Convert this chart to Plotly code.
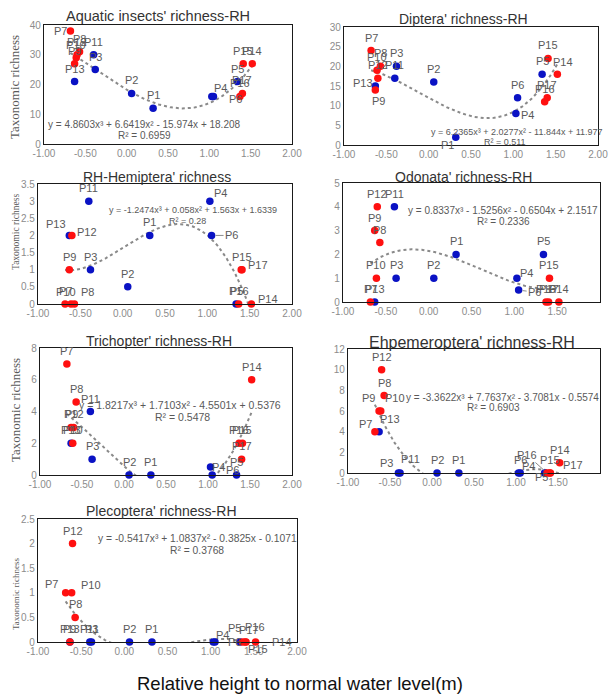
import numpy as np
import plotly.graph_objects as go

W, H = 610, 697

# ---------------- data ----------------
sites = [f"P{i}" for i in range(1, 18)]
rh = [0.32, 0.06, -0.38, 1.03, 1.34, 1.05, -0.68, -0.57, -0.63, -0.61,
      -0.40, -0.60, -0.63, 1.52, 1.41, 1.37, 1.40]
group = ["b", "b", "b", "b", "b", "b", "r", "r", "r", "r",
         "b", "r", "b", "r", "r", "r", "r"]

aquatic = [12, 17, 25, 16, 21, 16, 38, 31, 27, 29, 30, 30, 21, 27, 27, 16, 17]
diptera = [2, 16, 20, 8, 18, 12, 24, 20, 14, 19, 17, 17, 15, 18, 22, 11, 12]
hemiptera = [2, 0.5, 1, 3, 0, 2, 0, 0, 1, 0, 3, 2, 2, 0, 1, 0, 1]
odonata = [2, 1, 1, 1, 2, 0.5, 0, 2.5, 3, 1, 4, 4, 0, 0, 1, 0, 0]
trichoptera = [0, 0, 1, 0.5, 0, 0, 7, 4.6, 3, 2, 4, 3, 2, 6, 2, 2, 1]
ephemeroptera = [0, 0, 0, 0, 0, 0, 4, 7.5, 6, 6, 0, 10, 4, 1, 0, 0, 0]
plecoptera = [0, 0, 0, 0, 0, 0, 1, 0.5, 0, 1, 0, 2, 0, 0, 0, 0, 0]

titles = ["Aquatic insects' richness-RH", "Diptera' richness-RH",
          "RH-Hemiptera' richness", "Odonata' richness-RH",
          "Trichopter' richness-RH", "Ehpemeroptera' richness-RH",
          "Plecoptera' richness-RH"]

coef_aquatic = [4.8603, 6.6419, -15.974, 18.208]
coef_diptera = [6.2365, 2.0277, -11.844, 11.977]
coef_hemiptera = [-1.2474, 0.058, 1.563, 1.6339]
coef_odonata = [0.8337, -1.5256, -0.6504, 2.1517]
coef_trichoptera = [1.8217, 1.7103, -4.5501, 0.5376]
coef_ephemeroptera = [-3.3622, 7.7637, -3.7081, -0.5574]
coef_plecoptera = [-0.5417, 1.0837, -0.3825, -0.1071]

eq_texts = ["y = 4.8603x³ + 6.6419x² - 15.974x + 18.208",
            "y = 6.2365x³ + 2.0277x² - 11.844x + 11.977",
            "y = -1.2474x³ + 0.058x² + 1.563x + 1.6339",
            "y = 0.8337x³ - 1.5256x² - 0.6504x + 2.1517",
            "y = 1.8217x³ + 1.7103x² - 4.5501x + 0.5376",
            "y = -3.3622x³ + 7.7637x² - 3.7081x - 0.5574",
            "y = -0.5417x³ + 1.0837x² - 0.3825x - 0.1071"]
r2_texts = ["R² = 0.6959", "R² = 0.511", "R² = 0.28", "R² = 0.2336",
            "R² = 0.5478", "R² = 0.6903", "R² = 0.3768"]

x_tickvals = [-1.0, -0.5, 0.0, 0.5, 1.0, 1.5, 2.0]
x_ticktext = ["-1.00", "-0.50", "0.00", "0.50", "1.00", "1.50", "2.00"]
y_title = "Taxonomic richness"
x_title = "Relative height to normal water level(m)"

series = [aquatic, diptera, hemiptera, odonata, trichoptera, ephemeroptera, plecoptera]
coefs = [coef_aquatic, coef_diptera, coef_hemiptera, coef_odonata,
         coef_trichoptera, coef_ephemeroptera, coef_plecoptera]

# ---------------- layout / style ----------------
panels = [
    dict(box=(44, 25, 292, 144), yr=(0, 40), dt=10, tpos=(158, 16), tfs=14.5,
         eq=(144, 124), r2=(144, 135), efs=10, yt=(15, 87, 13)),
    dict(box=(344, 27, 598, 145), yr=(0, 30), dt=5, tpos=(463, 19), tfs=14,
         eq=(517, 132), r2=(505, 142), efs=9, yt=None),
    dict(box=(38, 184, 292, 304), yr=(0, 3.5), dt=0.5, tpos=(157, 177), tfs=14,
         eq=(193, 210), r2=(187, 221), efs=9, yt=(16, 232, 9.5)),
    dict(box=(343, 183, 600, 302), yr=(0, 5), dt=1, tpos=(463, 177), tfs=14,
         eq=(503, 210), r2=(503, 222), efs=10, yt=None),
    dict(box=(40, 348, 292, 475), yr=(0, 8), dt=2, tpos=(159, 341), tfs=14,
         eq=(180, 405), r2=(182, 417), efs=10.5, yt=(15, 410, 13)),
    dict(box=(348, 349, 600, 473), yr=(0, 12), dt=2, tpos=(472, 342), tfs=16,
         eq=(502, 397), r2=(493, 407), efs=10, yt=None),
    dict(box=(38, 519, 297, 642), yr=(0, 2.5), dt=0.5, tpos=(162, 511), tfs=14,
         eq=(197, 538), r2=(197, 550), efs=10.3, yt=(16, 594, 9)),
]

DEFAULT_SHIFT = (0, 13)
label_shift = [
    {"P7": (-10, 0), "P4": (9, 8), "P6": (22, -3)},
    {"P13": (-12, 3), "P9": (3, -11), "P1": (-8, -8), "P4": (12, -1), "P14": (6, 12)},
    {"P13": (-13, 11), "P12": (15, 3), "P4": (11, 8), "P17": (17, 5), "P10": (-5, 12),
     "P8": (13, 12), "P14": (17, 5)},
    {"P4": (10, 5)},
    {"P4": (8, 0), "P6": (20, 5)},
    {"P9": (-11, 13), "P10": (14, 13), "P7": (-9, 8), "P13": (11, 13), "P3": (-14, 10),
     "P11": (12, 14), "P4": (10, 7), "P5": (-3, -4), "P17": (23, 8)},
    {"P7": (-14, 9), "P10": (19, 8), "P4": (9, 7), "P6": (20, 0), "P5": (-6, 14),
     "P14": (26, 0), "P15": (12, -7), "P16": (12, 15), "P17": (4, 12)},
]
leader = [{}, {}, {"P6": (20, 0)}, {"P6": (16, 2)}, {}, {"P16": (-20, -18)}, {}]

BLUE = "#0a12c4"
RED = "#ff1010"
GRAY_TXT = "#595959"
TICK_COL = "#8c8c8c"
SANS = "Liberation Sans, Arial, sans-serif"
SERIF = "Liberation Serif, Times New Roman, serif"


def px(x):
    return x / W


def py(y):
    return 1 - y / H


fig = go.Figure()
annotations = []

for i, (vals, cf, p) in enumerate(zip(series, coefs, panels)):
    n = i + 1
    xa = "x" if n == 1 else f"x{n}"
    ya = "y" if n == 1 else f"y{n}"
    x0, y0, x1, y1 = p["box"]

    # trendline
    xs = np.linspace(min(rh), max(rh), 300)
    ys = np.polyval(cf, xs)
    fig.add_trace(go.Scatter(x=xs, y=ys, mode="lines", xaxis=xa, yaxis=ya,
                             line=dict(color="#8a8a8a", width=2, dash="dot"),
                             hoverinfo="skip", showlegend=False))
    for g, col in (("b", BLUE), ("r", RED)):
        xx = [r for r, gg in zip(rh, group) if gg == g]
        yy = [v for v, gg in zip(vals, group) if gg == g]
        fig.add_trace(go.Scatter(x=xx, y=yy, mode="markers", xaxis=xa, yaxis=ya,
                                 marker=dict(color=col, size=7.5), cliponaxis=False,
                                 showlegend=False))

    # point labels
    for s, r, v in zip(sites, rh, vals):
        if s in leader[i]:
            ax_, ay_ = leader[i][s]
            annotations.append(dict(x=r, y=v, xref=xa, yref=ya, text=s, showarrow=True,
                                    arrowhead=0, arrowwidth=1, arrowcolor="#8c8c8c",
                                    ax=ax_, ay=ay_, standoff=4,
                                    font=dict(family=SANS, size=11, color=GRAY_TXT)))
        else:
            dx, dy = label_shift[i].get(s, DEFAULT_SHIFT)
            annotations.append(dict(x=r, y=v, xref=xa, yref=ya, text=s, showarrow=False,
                                    xshift=dx, yshift=dy,
                                    font=dict(family=SANS, size=11, color=GRAY_TXT)))

    # title
    annotations.append(dict(x=px(p["tpos"][0]), y=py(p["tpos"][1]), xref="paper", yref="paper",
                            xanchor="center", yanchor="middle",
                            text=titles[i], showarrow=False,
                            font=dict(family=SANS, size=p["tfs"], color="#333333")))
    # equation
    annotations.append(dict(x=px(p["eq"][0]), y=py(p["eq"][1]), xref="paper", yref="paper",
                            xanchor="center", yanchor="middle",
                            text=eq_texts[i], showarrow=False,
                            font=dict(family=SANS, size=p["efs"], color=GRAY_TXT)))
    annotations.append(dict(x=px(p["r2"][0]), y=py(p["r2"][1]), xref="paper", yref="paper",
                            xanchor="center", yanchor="middle",
                            text=r2_texts[i], showarrow=False,
                            font=dict(family=SANS, size=p["efs"], color=GRAY_TXT)))
    if p["yt"]:
        tx, ty, fs = p["yt"]
        annotations.append(dict(x=px(tx), y=py(ty), xref="paper", yref="paper",
                                xanchor="center", yanchor="middle",
                                text=y_title, textangle=-90, showarrow=False,
                                font=dict(family=SERIF, size=fs, color=GRAY_TXT)))

    axis_common = dict(showline=True, mirror=True, linecolor="#1a1a1a", linewidth=1.3,
                       showgrid=False, zeroline=False, ticks="", automargin=False,
                       tickfont=dict(family=SANS, size=10, color=TICK_COL))
    fig.update_layout(**{
        ("xaxis" if n == 1 else f"xaxis{n}"): dict(
            domain=[px(x0), px(x1)], range=[-1, 2], anchor=ya,
            tickvals=x_tickvals, ticktext=x_ticktext, **axis_common),
        ("yaxis" if n == 1 else f"yaxis{n}"): dict(
            domain=[py(y1), py(y0)], range=list(p["yr"]), dtick=p["dt"], anchor=xa,
            **axis_common),
    })

annotations.append(dict(x=px(300), y=py(683), xref="paper", yref="paper", text=x_title,
                        xanchor="center", yanchor="middle",
                        showarrow=False, font=dict(family=SANS, size=18.5, color="#111111")))

fig.update_layout(width=W, height=H, margin=dict(l=0, r=0, t=0, b=0, autoexpand=False),
                  paper_bgcolor="white", plot_bgcolor="white",
                  annotations=annotations, showlegend=False)

fig.write_html("out.html", config={"displayModeBar": False},
               post_script="document.body.style.margin='0px';document.body.style.overflow='hidden';")
